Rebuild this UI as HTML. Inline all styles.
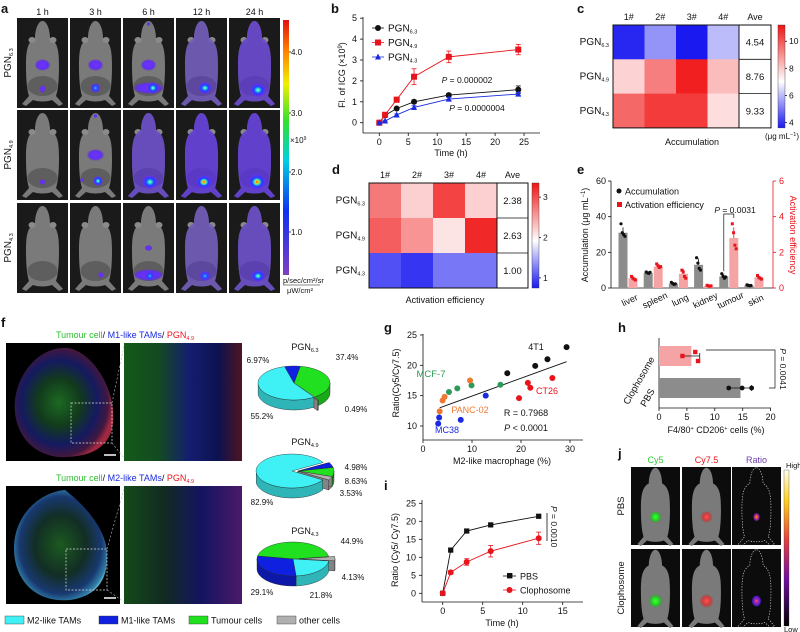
<!DOCTYPE html>
<html><head><meta charset="utf-8">
<style>
html,body{margin:0;padding:0;background:#fff;}
svg{display:block;font-family:"Liberation Sans",Arial,sans-serif;}
text{font-family:"Liberation Sans",Arial,sans-serif;}
</style></head>
<body>
<svg id="fig" width="800" height="632" viewBox="0 0 800 632" xmlns="http://www.w3.org/2000/svg">
<defs>
<radialGradient id="gp"><stop offset="0" stop-color="#6b34ff"/><stop offset="0.7" stop-color="#6230f0"/><stop offset="1" stop-color="#5a2ad0" stop-opacity="0"/></radialGradient>
<radialGradient id="gb"><stop offset="0" stop-color="#40c8ff"/><stop offset="0.35" stop-color="#2050ff"/><stop offset="0.75" stop-color="#5a30f0"/><stop offset="1" stop-color="#5a30f0" stop-opacity="0"/></radialGradient>
<radialGradient id="gc"><stop offset="0" stop-color="#d0ff60"/><stop offset="0.2" stop-color="#20e0e0"/><stop offset="0.5" stop-color="#2040ff"/><stop offset="0.8" stop-color="#6030f0"/><stop offset="1" stop-color="#6030f0" stop-opacity="0"/></radialGradient>
<radialGradient id="gr"><stop offset="0" stop-color="#ff2000"/><stop offset="0.15" stop-color="#ffd000"/><stop offset="0.32" stop-color="#40e0c0"/><stop offset="0.55" stop-color="#2040ff"/><stop offset="0.85" stop-color="#6030f0"/><stop offset="1" stop-color="#6030f0" stop-opacity="0"/></radialGradient>
<radialGradient id="ggreen"><stop offset="0" stop-color="#40ff40"/><stop offset="0.6" stop-color="#20d020"/><stop offset="1" stop-color="#20a020" stop-opacity="0"/></radialGradient>
<radialGradient id="gred"><stop offset="0" stop-color="#ff5050"/><stop offset="0.6" stop-color="#e03030" stop-opacity="0.8"/><stop offset="1" stop-color="#c02020" stop-opacity="0"/></radialGradient>
<radialGradient id="gratio1"><stop offset="0" stop-color="#ffb000"/><stop offset="0.4" stop-color="#e03060"/><stop offset="0.8" stop-color="#6020a0"/><stop offset="1" stop-color="#300060" stop-opacity="0"/></radialGradient>
<radialGradient id="gratio2"><stop offset="0" stop-color="#ff6040"/><stop offset="0.35" stop-color="#a020c0"/><stop offset="0.8" stop-color="#4020c0"/><stop offset="1" stop-color="#200060" stop-opacity="0"/></radialGradient>
<linearGradient id="cbA" x1="0" y1="0" x2="0" y2="1"><stop offset="0" stop-color="#e01010"/><stop offset="0.12" stop-color="#ff8000"/><stop offset="0.25" stop-color="#f0f000"/><stop offset="0.4" stop-color="#30e030"/><stop offset="0.55" stop-color="#00d0e0"/><stop offset="0.75" stop-color="#1030f0"/><stop offset="1" stop-color="#8040c0"/></linearGradient>
<linearGradient id="cbDiv" x1="0" y1="0" x2="0" y2="1"><stop offset="0" stop-color="#f01414"/><stop offset="0.55" stop-color="#ffffff"/><stop offset="1" stop-color="#1a1af0"/></linearGradient>
<linearGradient id="cbJ" x1="0" y1="0" x2="0" y2="1"><stop offset="0" stop-color="#fffff0"/><stop offset="0.2" stop-color="#ffd020"/><stop offset="0.45" stop-color="#e04040"/><stop offset="0.7" stop-color="#7010a0"/><stop offset="1" stop-color="#000000"/></linearGradient>
<radialGradient id="tis1" cx="0.45" cy="0.5" r="0.55"><stop offset="0" stop-color="#1c6a22"/><stop offset="0.4" stop-color="#123a1c"/><stop offset="0.7" stop-color="#141a60"/><stop offset="0.9" stop-color="#401840"/><stop offset="1" stop-color="#a02840"/></radialGradient>
<radialGradient id="tis2" cx="0.5" cy="0.5" r="0.55"><stop offset="0" stop-color="#1c5a20"/><stop offset="0.5" stop-color="#122e24"/><stop offset="0.8" stop-color="#183870"/><stop offset="0.95" stop-color="#3080a8"/><stop offset="1" stop-color="#70c0d8"/></radialGradient>
<linearGradient id="zoom1" x1="0" y1="0" x2="1" y2="0"><stop offset="0" stop-color="#145a18"/><stop offset="0.3" stop-color="#144a22"/><stop offset="0.55" stop-color="#141e70"/><stop offset="0.8" stop-color="#0c1250"/><stop offset="1" stop-color="#501420"/></linearGradient>
<linearGradient id="zoom2" x1="0" y1="0" x2="1" y2="0"><stop offset="0" stop-color="#144a18"/><stop offset="0.35" stop-color="#122a22"/><stop offset="0.65" stop-color="#141460"/><stop offset="1" stop-color="#4a1a68"/></linearGradient>
</defs>
</svg>
<script>
// ---------------- data ----------------
const bTimes=[0,1,3,6,12,24];
const bPGN63=[0,0.35,0.68,1.0,1.32,1.58];
const bPGN63err=[0,0.05,0.06,0.08,0.08,0.18];
const bPGN49=[0,0.38,1.1,2.2,3.15,3.5];
const bPGN49err=[0,0.05,0.12,0.38,0.28,0.25];
const bPGN43=[0,0.08,0.37,0.73,1.13,1.37];
const bPGN43err=[0,0.04,0.05,0.08,0.08,0.08];
const bXTicks=[0,5,10,15,20,25];
const bYTicks=[0,1,2,3,4,5];
const cCols=["1#","2#","3#","4#"];
const cRows=["6.3","4.9","4.3"];
const cVals=[[3.8,5.4,3.6,6.0],[7.8,9.3,11.0,8.2],[9.7,10.5,10.5,7.6]];
const cAve=["4.54","8.76","9.33"];
const cTicks=[4,6,8,10];
const dVals=[[2.6,1.95,3.0,1.95],[2.8,2.4,1.8,3.2],[0.95,0.85,1.1,1.1]];
const dAve=["2.38","2.63","1.00"];
const dTicks=[1,2,3];
const eCats=["liver","spleen","lung","kidney","tumour","skin"];
const eAcc=[31,8.5,2.5,13,6.5,1.5];
const eAccErr=[3,0.6,0.8,3.5,1.2,0.3];
const eAccPts=[[36,31,30,29],[9,8.5,8.2,8.8],[3.2,2.5,2,2.3],[17,14,11,10],[8,6.5,5.5,6.2],[1.8,1.5,1.3,1.4]];
const eAct=[0.55,1.2,0.8,0.12,2.8,0.6];
const eActErr=[0.1,0.1,0.25,0.03,0.6,0.08];
const eActPts=[[0.65,0.55,0.5,0.45],[1.35,1.25,1.15,1.2],[1.0,0.9,0.65,0.55],[0.15,0.12,0.1,0.12],[3.6,3.1,2.4,2.2],[0.7,0.6,0.55,0.5]];
const eLeftTicks=[0,20,40,60];
const eRightTicks=[0,2,4,6];
const pie1Vals=[37.4,0.49,55.2,6.97];
const pie2Vals=[4.98,8.63,3.53,82.9];
const pie3Vals=[44.9,4.13,21.8,29.1];
const gGroups=["4T1","MCF-7","PANC-02","CT26","MC38"];
const gX=[[17.2,22.9,25.4,29.3],[5.3,7.0,9.9,15.8],[3.4,4.0,4.4,9.6],[19.6,21.4,21.9,26.4],[3.1,3.3,7.7,12.8]];
const gY=[[18.7,19.9,21.0,23.0],[15.6,16.2,16.7,16.8],[12.4,14.2,14.8,17.5],[14.6,17.1,16.3,17.9],[10.4,11.4,11.0,15.0]];
const gFit=[[3.4,13.0],[29.3,20.6]];
const gXTicks=[0,10,20,30];
const gYTicks=[10,15,20,25];
const hCats=["Clophosome","PBS"];
const hMeans=[5.8,14.6];
const hErr=[1.5,2.0];
const hPts=[[4.2,6.5,7.0],[12.5,14.9,16.6]];
const hXTicks=[0,5,10,15,20];
const iTimes=[0,1,3,6,12];
const iPBS=[0,12,17.3,19,21.4];
const iPBSerr=[0,0.4,0.5,0.4,0.5];
const iClo=[0,5.8,8.7,11.7,15.3];
const iCloErr=[0,0.5,0.9,1.6,1.7];
const iXTicks=[0,5,10,15];
const iYTicks=[0,5,10,15,20,25];

// ---------------- helpers ----------------
const NS='http://www.w3.org/2000/svg';
const svg=document.getElementById('fig');
function mk(tag,attrs,name,parent){
  const el=document.createElementNS(NS,tag);
  for(const k in attrs) el.setAttribute(k,attrs[k]);
  
  
  (parent||svg).appendChild(el);
  return el;
}
function tx(x,y,html,name,o){
  o=o||{};
  const a={x:x,y:y,'font-size':o.fs||9,fill:o.fill||'#111','text-anchor':o.anchor||'middle'};
  if(o.weight) a['font-weight']=o.weight;
  if(o.rot!==undefined) a.transform='rotate('+o.rot+' '+x+' '+y+')';
  const t=mk('text',a,name,o.parent);
  t.innerHTML=html;
  return t;
}
function sub(s){return '<tspan font-size="5.5" dy="2">'+s+'</tspan>';}
function pgn(s){return 'PGN'+sub(s);}
function line(x1,y1,x2,y2,name,o){o=o||{};return mk('line',{x1:x1,y1:y1,x2:x2,y2:y2,stroke:o.stroke||'#111','stroke-width':o.w||0.8,'stroke-dasharray':o.dash||'none'},name,o.parent);}
function rect(x,y,w,h,fill,name,o){o=o||{};const a={x:x,y:y,width:w,height:h,fill:fill};if(o.stroke){a.stroke=o.stroke;a['stroke-width']=o.sw||0.8;}if(o.op!==undefined)a.opacity=o.op;return mk('rect',a,name,o.parent);}
function letter(x,y,s){tx(x,y,s,'panel-label-'+s,{fs:13,weight:'bold',anchor:'start'});}

// ---------------- panel a ----------------
letter(1,13,'a');
const aCols=["1 h","3 h","6 h","12 h","24 h"];
const aX=[17,70,123,176,229], aY=[18,110,203];
aCols.forEach((c,i)=>tx(aX[i]+25.5,15,c,'column-header-'+c.replace(' ',''),{fs:9}));
const aRowLabels=["6.3","4.9","4.3"];
aRowLabels.forEach((r,i)=>tx(11,aY[i]+45,pgn(r),'row-label-pgn'+r,{fs:10,rot:-90}));
const aGlows=[
 [[['gp',25.5,47,8,6],['gp',25.5,71,3,4]],[['gp',25.5,47,8,6],['gb',25.5,70,5,5]],[['gp',25.5,47,8,6],['gp',25.5,6,2,2],['gp',25.5,70,16,6],['gc',30,70,6,6]],[['body',0.45],['gc',29,70,7,6]],[['body',0.65],['gc',29,72,8,7]]],
 [[['gp',25.5,72,3,3]],[['gp',25.5,45,9,6],['gp',25.5,6,2,2],['gc',28,71,5,5],['gp',12,70,2,2]],[['body',0.6],['gc',27,72,8,7]],[['body',0.75],['gr',28,72,8,7]],[['body',0.75],['gr',28,72,9,8]]],
 [[],[['gp',31,72,3,3]],[['gp',25.5,45,4,3],['gp',25.5,72,16,6],['gb',27,73,5,5]],[['body',0.45],['gb',29,73,6,5]],[['body',0.6],['gc',29,73,7,6]]]
];
const mousePath='M25.5 3 C30 3 33 12 33 20 C41 24 42 34 42 48 C42 62 41 72 39 78 L46 86 L42 88 L35 82 C30 84 21 84 16 82 L9 88 L5 86 L12 78 C10 72 9 62 9 48 C9 34 10 24 18 20 C18 12 21 3 25.5 3 Z';
function mouseShape(g,fill,op,name){
  mk('path',{d:mousePath,fill:fill,opacity:op},name,g);
}
for(let r=0;r<3;r++)for(let c=0;c<5;c++){
  const g=mk('g',{transform:'translate('+aX[c]+','+aY[r]+')'},'imaging-cell-r'+(r+1)+'-c'+(c+1));
  rect(0,0,51,90,'#1a1a1a','imaging-background',{parent:g});
  mouseShape(g,'#7a7a7a',1,'mouse-body');
  mk('ellipse',{cx:15,cy:22,rx:3.5,ry:3,fill:'#8a8a8a'},'mouse-ear',g);
  mk('ellipse',{cx:36,cy:22,rx:3.5,ry:3,fill:'#8a8a8a'},'mouse-ear',g);
  mk('ellipse',{cx:25.5,cy:68,rx:15,ry:10,fill:'#5e5e5e'},'mouse-abdomen',g);
  aGlows[r][c].forEach(gl=>{
    if(gl[0]==='body'){mouseShape(g,'#5a2ee8',gl[1],'fluorescence-body');}
    else mk('ellipse',{cx:gl[1],cy:gl[2],rx:gl[3],ry:gl[4],fill:'url(#'+gl[0]+')'},'fluorescence-spot',g);
  });
}
rect(283,20,6,255,'url(#cbA)','colorbar-a');
const aCbTicks=[["4.0",52],["3.0",113],["2.0",172],["1.0",232]];
aCbTicks.forEach(t=>{line(289,t[1],291,t[1],'colorbar-a-tick');tx(291,t[1]+3,t[0],'colorbar-a-label',{fs:8,anchor:'start'});});
tx(290,143,'×10<tspan font-size="5" dy="-3">9</tspan>','colorbar-a-multiplier',{fs:8,anchor:'start'});
tx(283,283,'p/sec/cm²/sr','colorbar-a-unit',{fs:7.5,anchor:'start'});
line(283,285,320,285,'colorbar-a-unit-divider',{w:0.6});
tx(287,293,'μW/cm²','colorbar-a-unit-denominator',{fs:7.5,anchor:'start'});

// ---------------- panel b ----------------
letter(331,13,'b');
const bx=t=>379.3+t*5.79, by=v=>122.7-v*20.9;
line(363,17,363,133,'b-y-axis');line(363,133,540,133,'b-x-axis');
bYTicks.forEach(v=>{line(360,by(v),363,by(v),'b-y-tick');tx(357,by(v)+3,v,'b-y-tick-label',{fs:9,anchor:'end'});});
bXTicks.forEach(v=>{line(bx(v),133,bx(v),136,'b-x-tick');tx(bx(v),145,v,'b-x-tick-label',{fs:9});});
tx(451,156,'Time (h)','b-x-axis-title',{fs:9});
tx(345,75,'Fl. of ICG (×10<tspan font-size="6" dy="-3">9</tspan><tspan dy="3">)</tspan>','b-y-axis-title',{fs:9,rot:-90});
function series(xs,ys,errs,xf,yf,color,marker,name,msz){
  let pts=xs.map((x,i)=>xf(x)+','+yf(ys[i])).join(' ');
  mk('polyline',{points:pts,fill:'none',stroke:color,'stroke-width':0.9},name+'-line');
  xs.forEach((x,i)=>{
    const X=xf(x),Y=yf(ys[i]);
    if(errs[i]>0){const y1=yf(ys[i]+errs[i]),y2=yf(ys[i]-errs[i]);
      line(X,y1,X,y2,name+'-errorbar',{stroke:color});line(X-2.5,y1,X+2.5,y1,name+'-errorcap',{stroke:color});line(X-2.5,y2,X+2.5,y2,name+'-errorcap',{stroke:color});}
    const s=msz||3;
    if(marker==='c') mk('circle',{cx:X,cy:Y,r:s,fill:color},name+'-point');
    else if(marker==='s') mk('rect',{x:X-s,y:Y-s,width:2*s,height:2*s,fill:color},name+'-point');
    else mk('polygon',{points:(X)+','+(Y-s-0.5)+' '+(X-s)+','+(Y+s-0.5)+' '+(X+s)+','+(Y+s-0.5),fill:color},name+'-point');
  });
}
series(bTimes,bPGN63,bPGN63err,bx,by,'#111','c','pgn63');
series(bTimes,bPGN49,bPGN49err,bx,by,'#e8141c','s','pgn49');
series(bTimes,bPGN43,bPGN43err,bx,by,'#1a2ae0','t','pgn43');
const bLeg=[['6.3','#111','c'],['4.9','#e8141c','s'],['4.3','#1a2ae0','t']];
bLeg.forEach((l,i)=>{const y=28+i*14.5;line(372,y,384,y,'b-legend-line',{stroke:l[1]});
  if(l[2]==='c')mk('circle',{cx:378,cy:y,r:3,fill:l[1]},'b-legend-marker');
  else if(l[2]==='s')mk('rect',{x:375,y:y-3,width:6,height:6,fill:l[1]},'b-legend-marker');
  else mk('polygon',{points:'378,'+(y-3.5)+' 375,'+(y+2.5)+' 381,'+(y+2.5),fill:l[1]},'b-legend-marker');
  tx(388,y+3.5,pgn(l[0]),'b-legend-entry-pgn'+l[0],{fs:10,anchor:'start'});});
tx(467,83,'<tspan font-style="italic">P</tspan> = 0.000002','b-p-value-1',{fs:8.5});
tx(477,111,'<tspan font-style="italic">P</tspan> = 0.0000004','b-p-value-2',{fs:8.5});

// ---------------- heatmap helper ----------------
function divColor(v,vmin,vmid,vmax){
  const B=[26,26,240],W=[255,255,255],R=[240,20,20];let a,b,t;
  if(v<vmid){t=Math.max(0,(v-vmin)/(vmid-vmin));a=B;b=W;}else{t=Math.min(1,(v-vmid)/(vmax-vmid));a=W;b=R;}
  return 'rgb('+a.map((x,i)=>Math.round(x+(b[i]-x)*t)).join(',')+')';
}
function heatmap(p,vals,aves,cfg){
  const x0=cfg.x0,y0=cfg.y0,cw=cfg.cw,rh=cfg.rh,aw=cfg.aw;
  vals.forEach((row,r)=>row.forEach((v,c)=>rect(x0+c*cw,y0+r*rh,cw+0.3,rh+0.3,divColor(v,cfg.vmin,cfg.vmid,cfg.vmax),p+'-cell-r'+(r+1)+'-c'+(c+1))));
  const W=cw*4, H=rh*3;
  rect(x0,y0,W+aw,H,'none',p+'-frame',{stroke:'#111',sw:1});
  line(x0+W,y0,x0+W,y0+H,p+'-ave-divider',{w:1});
  aves.forEach((a,r)=>{if(r>0)line(x0+W,y0+r*rh,x0+W+aw,y0+r*rh,p+'-ave-row-divider',{w:0.8});
    tx(x0+W+aw/2,y0+r*rh+rh/2+3.5,a,p+'-ave-value',{fs:9.5});});
  cCols.forEach((c,i)=>tx(x0+i*cw+cw/2,y0-5,c,p+'-column-label',{fs:9}));
  tx(x0+W+aw/2,y0-5,'Ave',p+'-column-label-ave',{fs:9});
  cRows.forEach((r,i)=>tx(x0-4,y0+i*rh+rh/2+3,pgn(r),p+'-row-label-pgn'+r,{fs:10,anchor:'end'}));
  rect(cfg.cbx,y0,7,H,'url(#cbDiv)',p+'-colorbar',{stroke:'#333',sw:0.4});
  cfg.ticks.forEach(t=>{const y=y0+H-(t-cfg.vmin)/(cfg.vmax-cfg.vmin)*H;line(cfg.cbx+7,y,cfg.cbx+9,y,p+'-colorbar-tick');tx(cfg.cbx+11,y+3,t,p+'-colorbar-label',{fs:8.5,anchor:'start'});});
}
letter(577,13,'c');
heatmap('c',cVals,cAve,{x0:613,y0:25,cw:31.5,rh:34.3,aw:32,vmin:3.6,vmid:7.0,vmax:11.2,cbx:778,ticks:cTicks});
tx(799,139,'(μg mL<tspan font-size="5.5" dy="-3">−1</tspan><tspan dy="3">)</tspan>','c-colorbar-unit',{fs:8,anchor:'end'});
tx(692,145,'Accumulation','c-x-title',{fs:9});
letter(332,174,'d');
heatmap('d',dVals,dAve,{x0:369,y0:183,cw:32,rh:35,aw:31,vmin:0.75,vmid:1.6,vmax:3.35,cbx:532,ticks:dTicks});
tx(445,303,'Activation efficiency','d-x-title',{fs:9});

// ---------------- panel e ----------------
letter(577,174,'e');
const eyL=v=>288-v*1.783, eyR=v=>288-v*17.83, ex=i=>623+i*25.2;
line(611,181,611,288,'e-left-axis');line(611,288,773,288,'e-x-axis');line(773,181,773,288,'e-right-axis',{stroke:'#e8141c'});
eLeftTicks.forEach(v=>{line(608,eyL(v),611,eyL(v),'e-left-tick');tx(606,eyL(v)+3,v,'e-left-tick-label',{fs:9,anchor:'end'});});
eRightTicks.forEach(v=>{line(773,eyR(v),776,eyR(v),'e-right-tick',{stroke:'#e8141c'});tx(779,eyR(v)+3,v,'e-right-tick-label',{fs:9,anchor:'start',fill:'#e8141c'});});
tx(588,235,'Accumulation (μg mL<tspan font-size="6" dy="-3">−1</tspan><tspan dy="3">)</tspan>','e-left-axis-title',{fs:9,rot:-90});
tx(790,235,'Activation efficiency','e-right-axis-title',{fs:9,rot:90,fill:'#e8141c'});
eCats.forEach((c,i)=>{
  const gx=ex(i), rx=gx+10;
  rect(gx-4.5,eyL(eAcc[i]),9,288-eyL(eAcc[i]),'#8c8c8c','e-bar-accumulation-'+c);
  line(gx,eyL(eAcc[i]+eAccErr[i]),gx,eyL(eAcc[i]),'e-errorbar-accumulation');
  eAccPts[i].forEach((v,k)=>mk('circle',{cx:gx-2+k*1.3,cy:eyL(v),r:1.6,fill:'#111'},'e-point-accumulation'));
  rect(rx-4.5,eyR(eAct[i]),9,288-eyR(eAct[i]),'#f4a4a4','e-bar-activation-'+c);
  line(rx,eyR(eAct[i]+eActErr[i]),rx,eyR(eAct[i]),'e-errorbar-activation',{stroke:'#e8141c'});
  eActPts[i].forEach((v,k)=>mk('rect',{x:rx-3+k*1.3,y:eyR(v)-1.5,width:3,height:3,fill:'#e8141c'},'e-point-activation'));
  tx(gx+8,303,c,'e-category-label-'+c,{fs:9,rot:-25});
});
mk('circle',{cx:619,cy:191,r:2.5,fill:'#111'},'e-legend-marker-accumulation');
tx(625,194.5,'Accumulation','e-legend-entry-accumulation',{fs:9,anchor:'start'});
rect(617,202,5,5,'#e8141c','e-legend-marker-activation');
tx(625,208,'Activation efficiency','e-legend-entry-activation',{fs:9,anchor:'start'});
mk('polyline',{points:ex(4)+','+(eyL(eAcc[4]+eAccErr[4])-3)+' '+ex(4)+',214 '+(ex(4)+10)+',214 '+(ex(4)+10)+',218',fill:'none',stroke:'#111','stroke-width':0.7},'e-significance-bracket');
tx(735,213,'<tspan font-style="italic">P</tspan> = 0.0031','e-p-value',{fs:8.5});

// ---------------- panel f ----------------
letter(1,327,'f');
const fT1='<tspan fill="#30c030">Tumour cell</tspan>/ <tspan fill="#1a2ae0">M1-like TAMs</tspan>/ <tspan fill="#e8141c">PGN<tspan font-size="5.5" dy="2">4.9</tspan></tspan>';
const fT2='<tspan fill="#30c030">Tumour cell</tspan>/ <tspan fill="#1a2ae0">M2-like TAMs</tspan>/ <tspan fill="#e8141c">PGN<tspan font-size="5.5" dy="2">4.9</tspan></tspan>';
tx(125,338,fT1,'f-image-title-m1',{fs:9});
tx(125,481,fT2,'f-image-title-m2',{fs:9});
rect(6,343,114,118,'#000','f-tissue-image-m1');
mk('path',{d:'M68 348 C90 352 110 380 113 410 C116 440 100 458 60 457 C30 455 12 430 15 400 C18 372 40 346 68 348 Z',fill:'url(#tis1)'},'f-tissue-section-m1');
rect(124,343,118,118,'url(#zoom1)','f-zoom-image-m1');
mk('rect',{x:71,y:403,width:41,height:40,fill:'none',stroke:'#ddd','stroke-width':0.7,'stroke-dasharray':'2,1.5'},'f-zoom-box-m1');
line(112,403,124,346,'f-zoom-guide',{stroke:'#bbb',dash:'2,2',w:0.6});line(112,443,124,458,'f-zoom-guide',{stroke:'#bbb',dash:'2,2',w:0.6});
line(104,455,116,455,'f-scale-bar',{stroke:'#fff',w:1.5});
rect(6,486,114,118,'#000','f-tissue-image-m2');
mk('path',{d:'M65 490 C78 500 100 520 106 545 C110 570 104 595 70 600 C35 603 14 580 14 548 C14 515 40 492 65 490 Z',fill:'url(#tis2)'},'f-tissue-section-m2');
rect(124,486,118,118,'url(#zoom2)','f-zoom-image-m2');
mk('rect',{x:66,y:549,width:41,height:41,fill:'none',stroke:'#ddd','stroke-width':0.7,'stroke-dasharray':'2,1.5'},'f-zoom-box-m2');
line(107,549,124,489,'f-zoom-guide',{stroke:'#bbb',dash:'2,2',w:0.6});line(107,590,124,602,'f-zoom-guide',{stroke:'#bbb',dash:'2,2',w:0.6});
line(104,598,116,598,'f-scale-bar',{stroke:'#fff',w:1.5});
const pieCols={M2:'#3ff0f4',M1:'#1020e0',T:'#20e020',O:'#b0b0b0'};
function shade(hex){const n=parseInt(hex.slice(1),16);const r=(n>>16)*0.75|0,g=((n>>8)&255)*0.75|0,b=(n&255)*0.75|0;return 'rgb('+r+','+g+','+b+')';}
function pie(name,cx,cy,rx,ry,dep,vals,cols,start,explode){
  const tot=vals.reduce((a,b)=>a+b,0);let a=start;const slices=[];
  vals.forEach((v,i)=>{const a1=a+v/tot*2*Math.PI;slices.push([a,a1,i]);a=a1;});
  const g=mk('g',{},'pie-'+name);
  const off=i=>{if(explode.indexOf(i)<0)return[0,0];const m=(slices[explode[0]][0]+slices[explode[explode.length-1]][1])/2;return[6*Math.cos(m),4*Math.sin(m)];};
  const pt=(a,dx,dy,d)=>(cx+dx+rx*Math.cos(a)).toFixed(2)+','+(cy+dy+d+ry*Math.sin(a)).toFixed(2);
  slices.forEach(s=>{const [dx,dy]=off(s[2]);
    const front=[];for(let k=0;k<=40;k++){const aa=s[0]+(s[1]-s[0])*k/40;const n=((aa%(2*Math.PI))+2*Math.PI)%(2*Math.PI);if(n>0&&n<Math.PI)front.push(aa);}
    if(front.length>1){const top=front.map(aa=>pt(aa,dx,dy,0));const bot=front.slice().reverse().map(aa=>pt(aa,dx,dy,dep));
      mk('polygon',{points:top.concat(bot).join(' '),fill:shade(cols[s[2]]),stroke:'#222','stroke-width':0.4},'pie-side',g);}
    if(explode.indexOf(s[2])>=0){[s[0],s[1]].forEach(e=>{mk('polygon',{points:[(cx+dx)+','+(cy+dy),pt(e,dx,dy,0),pt(e,dx,dy,dep),(cx+dx)+','+(cy+dy+dep)].join(' '),fill:shade(cols[s[2]]),stroke:'#222','stroke-width':0.4},'pie-cut-face',g);});}
  });
  slices.forEach(s=>{const [dx,dy]=off(s[2]);const arr=[(cx+dx)+','+(cy+dy)];for(let k=0;k<=40;k++)arr.push(pt(s[0]+(s[1]-s[0])*k/40,dx,dy,0));
    mk('polygon',{points:arr.join(' '),fill:cols[s[2]],stroke:'#222','stroke-width':0.4},'pie-slice',g);});
}
const deg=Math.PI/180;
tx(305,350,pgn('6.3'),'pie-title-pgn6.3',{fs:9});
pie('pgn6.3',294,383,36,17,10,pie1Vals,[pieCols.T,pieCols.O,pieCols.M2,pieCols.M1],-80*deg,[1]);
tx(258,363,'6.97%','pie1-label-m1',{fs:8});tx(347,360,'37.4%','pie1-label-tumour',{fs:8});
tx(356,412,'0.49%','pie1-label-other',{fs:8});tx(262,419,'55.2%','pie1-label-m2',{fs:8});
tx(305,445,pgn('4.9'),'pie-title-pgn4.9',{fs:9});
pie('pgn4.9',292,471,36,17,10,pie2Vals,[pieCols.M1,pieCols.T,pieCols.O,pieCols.M2],-30*deg,[0,1,2]);
tx(356,470,'4.98%','pie2-label-m1',{fs:8});tx(356,484,'8.63%','pie2-label-tumour',{fs:8});
tx(351,496,'3.53%','pie2-label-other',{fs:8});tx(262,505,'82.9%','pie2-label-m2',{fs:8});
tx(305,534,pgn('4.3'),'pie-title-pgn4.3',{fs:9});
pie('pgn4.3',293,559,36,17,10,pie3Vals,[pieCols.T,pieCols.O,pieCols.M2,pieCols.M1],-170*deg,[1]);
tx(352,544,'44.9%','pie3-label-tumour',{fs:8});tx(353,580,'4.13%','pie3-label-other',{fs:8});
tx(262,595,'29.1%','pie3-label-m1',{fs:8});tx(321,598,'21.8%','pie3-label-m2',{fs:8});
const fLeg=[['M2-like TAMs',pieCols.M2,5],['M1-like TAMs',pieCols.M1,99],['Tumour cells',pieCols.T,189],['other cells',pieCols.O,277]];
fLeg.forEach(l=>{rect(l[2],616,19,8,l[1],'f-legend-swatch',{stroke:'#333',sw:0.4});tx(l[2]+22,623.5,l[0],'f-legend-entry-'+l[0].toLowerCase().replace(/ /g,'-'),{fs:9,anchor:'start'});});

// ---------------- panel g ----------------
letter(384,332,'g');
const gx=v=>423+v*4.9, gy=v=>426-(v-10)*6.07;
line(423,334,423,440,'g-y-axis');line(423,440,583,440,'g-x-axis');
gYTicks.forEach(v=>{line(420,gy(v),423,gy(v),'g-y-tick');tx(417,gy(v)+3,v,'g-y-tick-label',{fs:9,anchor:'end'});});
gXTicks.forEach(v=>{line(gx(v),440,gx(v),443,'g-x-tick');tx(gx(v),452,v,'g-x-tick-label',{fs:9});});
tx(502,464,'M2-like macrophage (%)','g-x-axis-title',{fs:9});
tx(399,383,'Ratio(Cy5/Cy7.5)','g-y-axis-title',{fs:9,rot:-90});
line(gx(gFit[0][0]),gy(gFit[0][1]),gx(gFit[1][0]),gy(gFit[1][1]),'g-regression-line',{w:0.9});
const gColors=['#111','#2e9a5a','#f07830','#e8141c','#1a2ae0'];
gGroups.forEach((n,k)=>gX[k].forEach((x,i)=>mk('circle',{cx:gx(x),cy:gy(gY[k][i]),r:3,fill:gColors[k]},'g-point-'+n.toLowerCase())));
tx(536,350,'4T1','g-label-4t1',{fs:9});
tx(431,377,'MCF-7','g-label-mcf7',{fs:9.5,fill:'#2e9a5a'});
tx(547,394,'CT26','g-label-ct26',{fs:9,fill:'#e8141c'});
tx(470,413,'PANC-02','g-label-panc02',{fs:9,fill:'#f07830'});
tx(447,433,'MC38','g-label-mc38',{fs:9,fill:'#1a2ae0'});
tx(526,416,'R = 0.7968','g-r-value',{fs:9});
tx(526,431,'<tspan font-style="italic">P</tspan> &lt; 0.0001','g-p-value',{fs:9});

// ---------------- panel h ----------------
letter(618,332,'h');
const hx=v=>659+v*5.58, hyC=[356,388];
line(659,338,659,408,'h-y-axis');line(659,408,771,408,'h-x-axis');
hXTicks.forEach(v=>{line(hx(v),408,hx(v),411,'h-x-tick');tx(hx(v),420,v,'h-x-tick-label',{fs:9});});
tx(716,433,'F4/80<tspan font-size="5.5" dy="-3">+</tspan><tspan dy="3"> CD206</tspan><tspan font-size="5.5" dy="-3">+</tspan><tspan dy="3"> cells (%)</tspan>','h-x-axis-title',{fs:9});
const hFill=['#f4a4a4','#8c8c8c'],hPt=['#e8141c','#111'];
hCats.forEach((c,i)=>{const y=hyC[i];
  rect(659,y-10,hx(hMeans[i])-659,20,hFill[i],'h-bar-'+c.toLowerCase());
  line(hx(hMeans[i]-hErr[i]),y,hx(hMeans[i]+hErr[i]),y,'h-errorbar');
  line(hx(hMeans[i]+hErr[i]),y-3,hx(hMeans[i]+hErr[i]),y+3,'h-errorcap');
  hPts[i].forEach((v,k)=>{const yy=y+(i===0?[0,-4,5][k]:0);
    if(i===0)mk('rect',{x:hx(v)-2.2,y:yy-2.2,width:4.4,height:4.4,fill:hPt[i]},'h-point-'+c.toLowerCase());
    else mk('circle',{cx:hx(v),cy:yy,r:2.4,fill:hPt[i]},'h-point-'+c.toLowerCase());});
  tx(655,y+3,c,'h-category-label-'+c.toLowerCase(),{fs:9.5,anchor:'end',rot:-60});
});
mk('polyline',{points:'706,350 775,350 775,388 769,388',fill:'none',stroke:'#111','stroke-width':0.7},'h-significance-bracket');
tx(780,369,'<tspan font-style="italic">P</tspan> = 0.0041','h-p-value',{fs:8.5,rot:90});

// ---------------- panel i ----------------
letter(384,490,'i');
const ix=t=>442.7+t*8, iy=v=>593.3-v*3.6;
line(422,500,422,602,'i-y-axis');line(422,602,583,602,'i-x-axis');
iYTicks.forEach(v=>{line(419,iy(v),422,iy(v),'i-y-tick');tx(416,iy(v)+3,v,'i-y-tick-label',{fs:9,anchor:'end'});});
iXTicks.forEach(v=>{line(ix(v),602,ix(v),605,'i-x-tick');tx(ix(v),614,v,'i-x-tick-label',{fs:9});});
tx(502,626,'Time (h)','i-x-axis-title',{fs:9});
tx(398,550,'Ratio (Cy5/ Cy7.5)','i-y-axis-title',{fs:9,rot:-90});
series(iTimes,iPBS,iPBSerr,ix,iy,'#111','s','pbs',2.6);
series(iTimes,iClo,iCloErr,ix,iy,'#e8141c','c','clophosome',3);
line(503,576,516,576,'i-legend-line-pbs');rect(507,573,5.4,5.4,'#111','i-legend-marker-pbs');
tx(520,579.5,'PBS','i-legend-entry-pbs',{fs:9,anchor:'start'});
line(503,590,516,590,'i-legend-line-clophosome',{stroke:'#e8141c'});mk('circle',{cx:509.5,cy:590,r:3,fill:'#e8141c'},'i-legend-marker-clophosome');
tx(520,593.5,'Clophosome','i-legend-entry-clophosome',{fs:9,anchor:'start'});
line(547,513,547,541,'i-significance-bracket',{w:0.8});
tx(551,506,'<tspan font-style="italic">P</tspan> = 0.0010','i-p-value',{fs:8.5,rot:90,anchor:'start'});

// ---------------- panel j ----------------
letter(618,458,'j');
const jX=[631,682,732], jY=[467,549], jW=49, jH=78;
const jHeads=[['Cy5','#30d030'],['Cy7.5','#e8141c'],['Ratio','#7040b0']];
jHeads.forEach((h,i)=>tx(jX[i]+jW/2,463,h[0],'j-column-header-'+h[0].toLowerCase(),{fs:9,fill:h[1]}));
const jRows=['PBS','Clophosome'];
jRows.forEach((r,i)=>tx(624,jY[i]+jH/2,r,'j-row-label-'+r.toLowerCase(),{fs:9.5,rot:-90}));
for(let r=0;r<2;r++)for(let c=0;c<3;c++){
  const g=mk('g',{transform:'translate('+jX[c]+','+jY[r]+')'},'j-image-r'+(r+1)+'-c'+(c+1));
  rect(0,0,jW,jH,'#0c0c0c','j-image-background',{parent:g});
  const mg=mk('g',{transform:'translate(2,-2) scale(0.88,0.92)'},'j-mouse',g);
  if(c<2){mouseShape(mg,'#7a7a7a',1,'j-mouse-body');}
  else{mk('path',{d:mousePath,fill:'none',stroke:'#ddd','stroke-width':0.7,'stroke-dasharray':'1.5,1.5'},'j-mouse-outline',mg);}
  const cy=r===0?50:52;
  if(c===0)mk('circle',{cx:24.5,cy:cy,r:r===0?6:7,fill:'url(#ggreen)'},'j-cy5-signal',g);
  if(c===1)mk('circle',{cx:24.5,cy:cy,r:r===0?6:7,fill:'url(#gred)'},'j-cy75-signal',g);
  if(c===2)mk('ellipse',{cx:24.5,cy:cy,rx:r===0?3.5:5,ry:r===0?4.5:6,fill:r===0?'url(#gratio1)':'url(#gratio2)'},'j-ratio-signal',g);
}
rect(784,470,5,156,'url(#cbJ)','j-colorbar',{stroke:'#333',sw:0.3});
tx(786,468,'High','j-colorbar-high',{fs:7.5,anchor:'start'});
tx(784,632,'Low','j-colorbar-low',{fs:7.5,anchor:'start'});
</script>
</body></html>
